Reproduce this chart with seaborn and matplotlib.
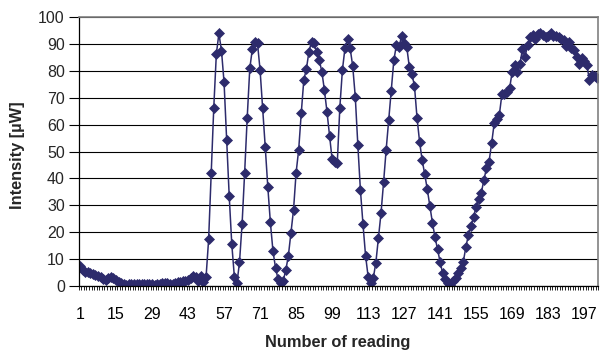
import matplotlib
matplotlib.use("Agg")
import matplotlib.pyplot as plt
import seaborn as sns
import pandas as pd
from matplotlib.ticker import FixedLocator

# ---- data -------------------------------------------------------------
intensity = [
    7.4, 6.0, 5.4, 5.2, 5.0, 4.6, 4.2, 3.8, 3.4, 2.6,
    2.2, 3.0, 3.2, 2.8, 2.2, 1.4, 1.2, 0.6, 0.2, 0.6,
    0.8, 0.8, 0.8, 0.9, 0.8, 0.8, 0.8, 0.8, 0.6, 0.4,
    0.8, 0.8, 1.0, 1.0, 1.2, 0.8, 0.6, 1.0, 1.4, 1.6,
    2.0, 1.8, 2.4, 3.0, 3.6, 3.2, 2.0, 3.6, 1.5, 3.3,
    17.3, 41.9, 66.3, 86.2, 93.9, 87.5, 75.7, 54.3, 33.5, 15.6,
    3.5, 1.0, 8.8, 23.0, 42.1, 62.6, 80.9, 88.1, 90.8, 90.2,
    80.3, 66.3, 51.8, 36.9, 23.7, 13.1, 6.8, 2.5, 1.0, 2.0,
    5.9, 11.3, 19.8, 28.3, 42.1, 50.6, 64.2, 76.6, 80.7, 87.1,
    90.8, 90.2, 87.1, 84.0, 79.7, 72.9, 64.8, 55.8, 47.1, 46.2,
    45.6, 66.3, 80.3, 88.4, 91.7, 88.4, 81.8, 70.4, 52.4, 35.7,
    23.0, 11.3, 3.5, 1.2, 2.9, 8.7, 17.7, 27.0, 38.5, 50.6,
    61.7, 72.5, 84.0, 89.6, 88.8, 92.9, 90.5, 89.0, 81.5, 78.8,
    74.5, 62.6, 53.6, 46.8, 41.6, 35.9, 29.7, 23.5, 18.1, 13.6,
    8.8, 4.7, 2.5, 1.0, 0.5, 1.8, 2.9, 4.9, 6.6, 9.0,
    14.6, 19.0, 22.3, 25.8, 29.5, 32.2, 34.7, 39.4, 43.8, 46.2,
    53.0, 60.5, 62.0, 63.6, 71.3, 71.4, 72.3, 73.5, 79.7, 82.2,
    79.7, 82.5, 88.1, 85.3, 89.6, 92.7, 93.3, 92.0, 93.5, 94.2,
    93.3, 92.5, 93.0, 93.9, 93.0, 92.9, 92.5, 91.7, 91.4, 89.2,
    90.8, 88.4, 87.7, 85.3, 82.5, 84.6, 83.5, 82.2, 76.6, 78.4,
    78.0, 77.5,
]
reading = list(range(1, len(intensity) + 1))
x_tick_labels = [1, 15, 29, 43, 57, 71, 85, 99, 113, 127, 141, 155, 169, 183, 197]
y_ticks = [0, 10, 20, 30, 40, 50, 60, 70, 80, 90, 100]

df = pd.DataFrame({"reading": reading, "intensity": intensity})

# ---- style ------------------------------------------------------------
sns.set_style("white")
plt.rcParams["font.family"] = ["Liberation Sans", "DejaVu Sans"]

navy = "#2D2B6C"
tick_fs = 11.5
label_fs = 11.8

fig = plt.figure(figsize=(6.04, 3.54), dpi=100)
ax = fig.add_axes([0.1303, 0.192, 0.8604, 0.760])

ax.yaxis.grid(True, color="black", linewidth=0.8)
ax.set_axisbelow(True)

sns.lineplot(data=df, x="reading", y="intensity", ax=ax, color=navy,
             marker="D", markersize=5.4, markeredgecolor=navy,
             markeredgewidth=0.5, linewidth=1.1, sort=False, estimator=None)

n = len(intensity)
ax.set_xlim(0.5, n + 0.5)
ax.set_ylim(0, 100)

ax.xaxis.set_major_locator(FixedLocator(x_tick_labels))
ax.set_xticklabels([str(v) for v in x_tick_labels])
ax.xaxis.set_minor_locator(FixedLocator([i + 0.5 for i in range(0, n + 1)]))
ax.set_yticks(y_ticks)

ax.tick_params(axis="x", which="major", length=0, pad=15, labelsize=tick_fs,
               colors="black")
ax.tick_params(axis="x", which="minor", length=3.2, width=0.6,
               direction="out", color="black", bottom=True)
ax.tick_params(axis="y", which="major", length=7.5, width=0.8,
               direction="out", pad=2.5, labelsize=tick_fs, color="black",
               left=True)

for side in ("left", "bottom"):
    ax.spines[side].set_color("black")
    ax.spines[side].set_linewidth(0.9)
for side in ("top", "right"):
    ax.spines[side].set_visible(True)
    ax.spines[side].set_color("#808080")
    ax.spines[side].set_linewidth(1.2)

ax.set_xlabel("Number of reading", fontsize=label_fs, fontweight="bold")
ax.set_ylabel("Intensity [µW]", fontsize=label_fs, fontweight="bold")
ax.xaxis.set_label_coords(0.499, -0.183)
ax.yaxis.set_label_coords(-0.104, 0.485)

fig.savefig("out.png", dpi=100, facecolor="white")
